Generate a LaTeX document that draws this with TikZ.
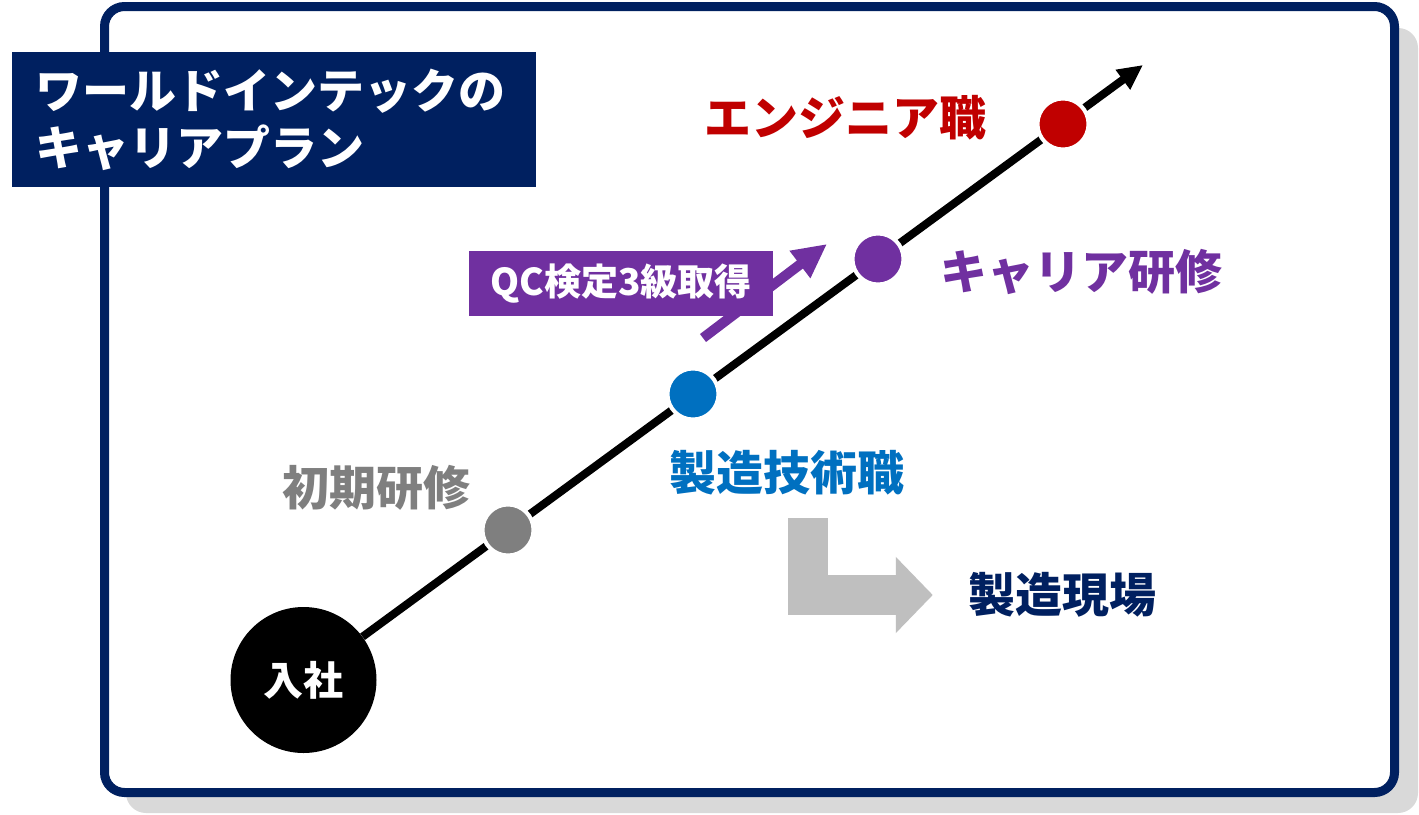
\documentclass[tikz,border=0pt]{standalone}
\usepackage{fontspec}
\setmainfont{Noto Sans CJK JP}
\usepackage{xcolor}
\usepackage{tikz}
\usetikzlibrary{arrows.meta, positioning}
\definecolor{navy}{HTML}{002060}
\definecolor{shadowgray}{HTML}{D9D9D9}
\definecolor{stepgray}{HTML}{7F7F7F}
\definecolor{jobblue}{HTML}{0070C0}
\definecolor{planpurple}{HTML}{7030A0}
\definecolor{engred}{HTML}{C00000}
\definecolor{bendgray}{HTML}{BFBFBF}
\tikzstyle{frame} = [draw=navy, line width=9pt, rounded corners=20pt, fill=white]
\tikzstyle{titlebox} = [rectangle, fill=navy, text=white, align=left, text width=477pt, minimum width=524pt, minimum height=135pt, inner sep=0pt, font=\fontsize{47}{57}\selectfont\bfseries]
\tikzstyle{startcircle} = [circle, fill=black, text=white, minimum size=146pt, inner sep=0pt, font=\fontsize{40}{48}\selectfont\bfseries]
\tikzstyle{milestone} = [circle, draw=white, line width=4pt, minimum size=51pt, inner sep=0pt]
\tikzstyle{steptext} = [inner sep=0pt, font=\fontsize{47}{56}\selectfont\bfseries]
\tikzstyle{qcbox} = [rectangle, fill=planpurple, text=white, minimum width=304pt, minimum height=65pt, inner sep=0pt, font=\fontsize{37}{44}\selectfont\bfseries]
\tikzstyle{mainline} = [line width=8pt, -{Triangle[length=25pt, width=23pt]}]
\tikzstyle{qcarrow} = [planpurple, line width=10pt, -{Triangle[length=34pt, width=32pt]}]
\tikzstyle{bendarrow} = [bendgray, line width=40pt, line join=miter, -{Triangle[length=37pt, width=74pt]}]

\begin{document}
\begin{tikzpicture}[x=1pt, y=-1pt]
  \useasboundingbox (0,0) rectangle (1419,814);
  \fill [shadowgray, rounded corners=20pt] (126,28) rectangle (1418,813);
  \draw [frame] (104.5,6.5) rectangle (1394.5,792.5);

  \node (title) [titlebox] at (274,119.5) {ワールドインテックの\\キャリアプラン};

  \node (ent) [startcircle] at (303.5,680) {入社};
  \coordinate (tip) at (1143,65);
  \draw [mainline] (ent) -- (tip);

  \node (shoki) [milestone, fill=stepgray]   at (508,530) {};
  \node (gijutsu) [milestone, fill=jobblue]  at (693,394) {};
  \node (career) [milestone, fill=planpurple] at (878,259) {};
  \node (eng) [milestone, fill=engred]       at (1063,124) {};

  \node (shokitxt) [steptext, text=stepgray]    at (376,488) {初期研修};
  \node (gijutsutxt) [steptext, text=jobblue]   at (787,473) {製造技術職};
  \node (careertxt) [steptext, text=planpurple] at (1081,272) {キャリア研修};
  \node (engtxt) [steptext, text=engred]        at (845,118) {エンジニア職};
  \node (genba) [steptext, text=navy]           at (1062,595) {製造現場};

  \coordinate (qctail) at (703,338);
  \coordinate (qctip) at (827,244);
  \draw [qcarrow] (qctail) -- (qctip);
  \node (qc) [qcbox] at (621,283.5) {QC検定3級取得};

  \coordinate (bendstart) at (807.5,518);
  \draw [bendarrow, shorten >=35pt] (bendstart) |- (genba.west);
\end{tikzpicture}
\end{document}
